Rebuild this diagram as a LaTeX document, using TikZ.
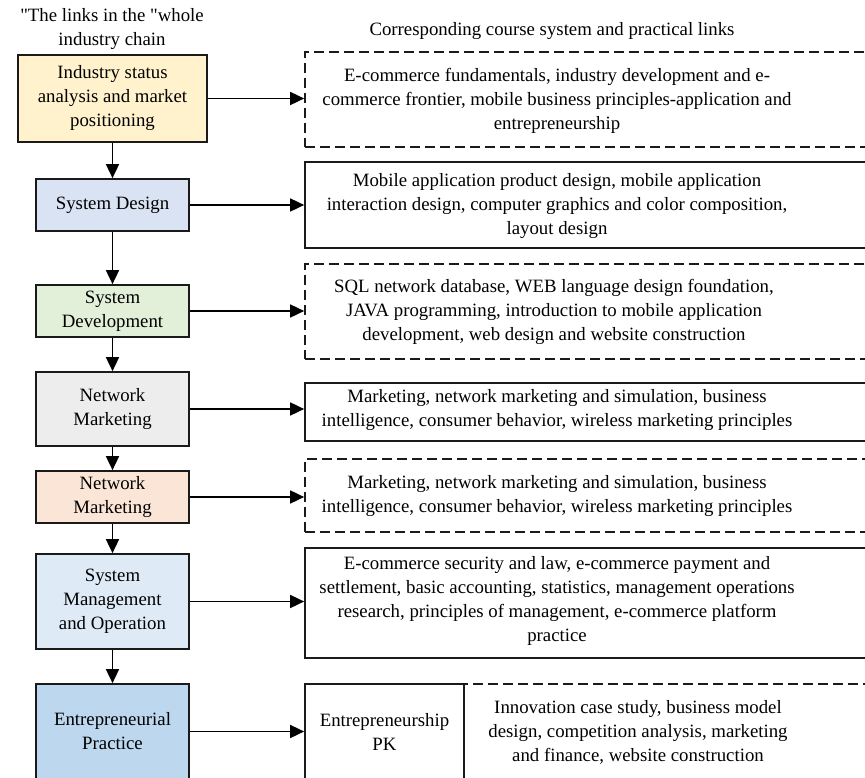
\documentclass[tikz,border=0pt]{standalone}
\usepackage{fontspec}
\setmainfont{Liberation Serif}[Ligatures=TeXOff]
\usetikzlibrary{arrows.meta}
\definecolor{cyellow}{HTML}{FFF2CC}
\definecolor{clav}{HTML}{DAE3F3}
\definecolor{cgreen}{HTML}{E2F0D9}
\definecolor{cgray}{HTML}{EDEDED}
\definecolor{corange}{HTML}{FBE5D6}
\definecolor{clblue}{HTML}{DEEBF7}
\definecolor{cblue}{HTML}{BDD7EE}
\definecolor{cline}{HTML}{1A1A1A}
\begin{document}
\begin{tikzpicture}[x=1pt,y=-1pt,
  every node/.style={font=\fontsize{18.8}{24}\selectfont, align=center, inner sep=0pt},
  lbox/.style={draw=cline, line width=1.7pt, minimum width=153pt},
  rsolid/.style={draw=cline, line width=1.7pt, minimum width=562pt},
  rdash/.style={draw=cline, line width=1.7pt, minimum width=562pt, dash pattern=on 10pt off 5pt},
  arr/.style={-{Triangle[length=14pt,width=13pt]}, line width=1.7pt, draw=black}]
\useasboundingbox (0,0) rectangle (865,778);

\node (tl) at (112,29.5) {"The links in the "whole\\industry chain};
\node (tr) at (552,31) {Corresponding course system and practical links};

\node[lbox, fill=cyellow, minimum width=189pt, minimum height=87pt] (l1) at (112.5,98.5) {Industry status\\analysis and market\\positioning};
\node[lbox, fill=clav, minimum height=52pt] (l2) at (112.5,205) {System Design};
\node[lbox, fill=cgreen, minimum height=52pt] (l3) at (112.5,311) {System\\Development};
\node[lbox, fill=cgray, minimum height=74pt] (l4) at (112.5,409) {Network\\Marketing};
\node[lbox, fill=corange, minimum height=52pt] (l5) at (112.5,497) {Network\\Marketing};
\node[lbox, fill=clblue, minimum height=95pt] (l6) at (112.5,601.5) {System\\Management\\and Operation};
\node[lbox, fill=cblue, minimum height=95pt] (l7) at (112.5,731.5) {Entrepreneurial\\Practice};

\node[rdash, minimum height=95pt] (r1) at (586,99.5) {};
\node[rsolid, minimum height=86pt] (r2) at (586,205) {};
\node[rdash, minimum height=95pt] (r3) at (586,311.5) {};
\node[rsolid, minimum height=58pt] (r4) at (586,412) {};
\node[rdash, minimum height=73pt] (r5) at (586,495.5) {};
\node[rsolid, minimum height=110pt] (r6) at (586,603) {};

\node (r1t) at (557,101) {E-commerce fundamentals, industry development and e-\\commerce frontier, mobile business principles-application and\\entrepreneurship};
\node (r2t) at (557,206) {Mobile application product design, mobile application\\interaction design, computer graphics and color composition,\\layout design};
\node (r3t) at (554,312) {SQL network database, WEB language design foundation,\\JAVA programming, introduction to mobile application\\development, web design and website construction};
\node (r4t) at (557,410) {Marketing, network marketing and simulation, business\\intelligence, consumer behavior, wireless marketing principles};
\node (r5t) at (557,496) {Marketing, network marketing and simulation, business\\intelligence, consumer behavior, wireless marketing principles};
\node (r6t) at (557,601) {E-commerce security and law, e-commerce payment and\\settlement, basic accounting, statistics, management operations\\research, principles of management, e-commerce platform\\practice};

\node[draw=none, minimum width=403pt, minimum height=95pt] (r7b) at (665.5,731.5) {};
\draw[cline, line width=1.7pt, dash pattern=on 10pt off 5pt] (r7b.south west) -- (r7b.north west) -- (r7b.north east) -- (r7b.south east);
\node[draw=cline, line width=1.7pt, minimum width=159pt, minimum height=95pt] (r7a) at (384.5,731.5) {Entrepreneurship\\PK};
\node (r7t) at (638,732) {Innovation case study, business model\\design, competition analysis, marketing\\and finance, website construction};

\draw[arr] (l1) -- (l2);
\draw[arr] (l2) -- (l3);
\draw[arr] (l3) -- (l4);
\draw[arr] (l4) -- (l5);
\draw[arr] (l5) -- (l6);
\draw[arr] (l6) -- (l7);

\draw[arr] (l1.east) -- (l1.east -| r1.west);
\draw[arr] (l2.east) -- (l2.east -| r2.west);
\draw[arr] (l3.east) -- (l3.east -| r3.west);
\draw[arr] (l4.east) -- (l4.east -| r4.west);
\draw[arr] (l5.east) -- (l5.east -| r5.west);
\draw[arr] (l6.east) -- (l6.east -| r6.west);
\draw[arr] (l7.east) -- (l7.east -| r7a.west);
\end{tikzpicture}
\end{document}
